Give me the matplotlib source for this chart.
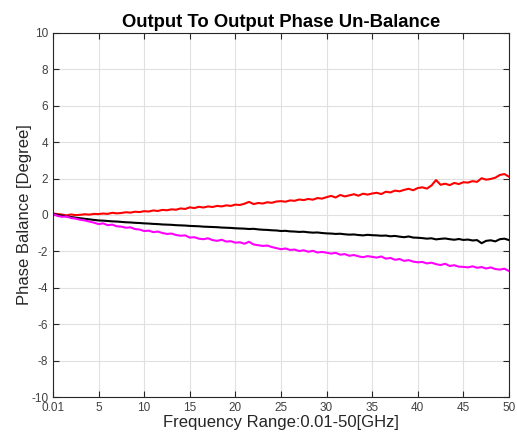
import numpy as np
import matplotlib
matplotlib.use("Agg")
import matplotlib.pyplot as plt

plt.rcParams['font.family'] = ['Liberation Sans', 'DejaVu Sans']
plt.rcParams['axes.unicode_minus'] = False

# frequency sweep points [GHz]
freq = np.r_[0.01, np.arange(0.5, 50.01, 0.5)]

# output-to-output phase balance [deg]
fase_vermelha = [
    0.08,
    0.05, 0.02, -0.02, 0.03, -0.01, 0.01, 0.04, 0.02, 0.06, 0.05,
    0.08, 0.06, 0.12, 0.09, 0.11, 0.15, 0.13, 0.18, 0.16, 0.21,
    0.19, 0.25, 0.22, 0.28, 0.26, 0.31, 0.29, 0.36, 0.33, 0.42,
    0.38, 0.45, 0.41, 0.47, 0.44, 0.50, 0.47, 0.53, 0.50, 0.57,
    0.55, 0.62, 0.72, 0.60, 0.66, 0.63, 0.70, 0.67, 0.74, 0.76,
    0.73, 0.80, 0.78, 0.85, 0.82, 0.88, 0.84, 0.93, 0.90, 0.98,
    1.05, 0.96, 1.10, 1.02, 1.08, 1.14, 1.06, 1.17, 1.12, 1.18,
    1.22, 1.15, 1.28, 1.24, 1.34, 1.30, 1.38, 1.44, 1.36, 1.48,
    1.52, 1.45, 1.62, 1.92, 1.66, 1.72, 1.64, 1.76, 1.70, 1.80,
    1.78, 1.86, 1.82, 2.02, 1.94, 1.98, 2.05, 2.20, 2.25, 2.10,
]
fase_preta = [
    0.08,
    0.00, -0.04, -0.08, -0.11, -0.15, -0.18, -0.21, -0.24, -0.27, -0.30,
    -0.31, -0.33, -0.35, -0.36, -0.38, -0.40, -0.41, -0.43, -0.44, -0.46,
    -0.47, -0.49, -0.50, -0.52, -0.53, -0.54, -0.56, -0.57, -0.58, -0.60,
    -0.61, -0.62, -0.64, -0.65, -0.66, -0.67, -0.69, -0.70, -0.71, -0.73,
    -0.74, -0.75, -0.77, -0.76, -0.79, -0.81, -0.82, -0.84, -0.85, -0.88,
    -0.87, -0.90, -0.91, -0.93, -0.92, -0.95, -0.97, -0.96, -0.99, -1.01,
    -1.02, -1.04, -1.03, -1.06, -1.08, -1.07, -1.10, -1.12, -1.09, -1.11,
    -1.12, -1.14, -1.13, -1.17, -1.15, -1.19, -1.22, -1.18, -1.24, -1.25,
    -1.27, -1.30, -1.28, -1.34, -1.31, -1.29, -1.33, -1.36, -1.32, -1.37,
    -1.35, -1.40, -1.38, -1.55, -1.42, -1.39, -1.45, -1.33, -1.30, -1.38,
]
fase_magenta = [
    0.05,
    -0.05, -0.10, -0.08, -0.17, -0.20, -0.26, -0.30, -0.36, -0.42, -0.50,
    -0.46, -0.56, -0.53, -0.62, -0.64, -0.70, -0.68, -0.77, -0.80, -0.88,
    -0.86, -0.94, -0.91, -0.99, -1.04, -1.02, -1.10, -1.14, -1.12, -1.24,
    -1.22, -1.30, -1.33, -1.28, -1.38, -1.42, -1.36, -1.46, -1.44, -1.52,
    -1.50, -1.58, -1.47, -1.62, -1.66, -1.70, -1.68, -1.76, -1.82, -1.88,
    -1.84, -1.92, -1.90, -1.98, -1.94, -2.02, -1.97, -2.06, -2.03, -2.07,
    -2.12, -2.08, -2.18, -2.15, -2.24, -2.20, -2.27, -2.32, -2.26, -2.30,
    -2.34, -2.28, -2.40, -2.36, -2.46, -2.42, -2.52, -2.48, -2.56, -2.60,
    -2.58, -2.66, -2.62, -2.70, -2.75, -2.68, -2.80, -2.76, -2.84, -2.85,
    -2.88, -2.82, -2.90, -2.86, -2.94, -2.88, -2.97, -3.00, -2.95, -3.08,
]

xticks = [0.01, 5, 10, 15, 20, 25, 30, 35, 40, 45, 50]
xtick_labels = ['0.01', '5', '10', '15', '20', '25', '30', '35', '40', '45', '50']
yticks = [-10, -8, -6, -4, -2, 0, 2, 4, 6, 8, 10]

fig = plt.figure(figsize=(5.17, 4.38), dpi=100)
ax = fig.add_axes([0.1025, 0.0936, 0.882, 0.8311])

ax.plot(freq, fase_vermelha, color='#ff0000', linewidth=1.5)
ax.plot(freq, fase_preta, color='#000000', linewidth=1.5)
ax.plot(freq, fase_magenta, color='#ff00ff', linewidth=1.5)

ax.set_xlim(0.01, 50)
ax.set_ylim(-10, 10)
ax.set_xticks(xticks)
ax.set_xticklabels(xtick_labels)
ax.set_yticks(yticks)
ax.grid(True, color='#e0e0e0', linewidth=0.8)
ax.set_axisbelow(True)
ax.tick_params(direction='in', length=4, width=0.8, colors='#262626',
               labelsize=8.5, labelcolor='#404040', top=True, right=True)
for s in ax.spines.values():
    s.set_color('#262626')
    s.set_linewidth(0.8)

ax.set_title("Output To Output Phase Un-Balance", fontsize=13.3, fontweight='bold', pad=4)
ax.set_xlabel("Frequency Range:0.01-50[GHz]", fontsize=12, color='#262626', labelpad=1)
ax.set_ylabel("Phase Balance [Degree]", fontsize=12, color='#262626', labelpad=-1)

fig.savefig("out.png", dpi=100)
plt.close(fig)
